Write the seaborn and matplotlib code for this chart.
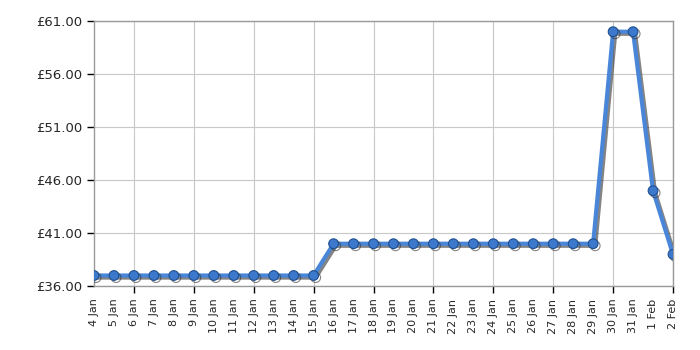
import matplotlib
matplotlib.use("Agg")
import matplotlib.pyplot as plt
import matplotlib.patheffects as pe
from matplotlib.ticker import FixedLocator
import seaborn as sns
import pandas as pd

dates = ["4 Jan", "5 Jan", "6 Jan", "7 Jan", "8 Jan", "9 Jan", "10 Jan", "11 Jan",
         "12 Jan", "13 Jan", "14 Jan", "15 Jan", "16 Jan", "17 Jan", "18 Jan",
         "19 Jan", "20 Jan", "21 Jan", "22 Jan", "23 Jan", "24 Jan", "25 Jan",
         "26 Jan", "27 Jan", "28 Jan", "29 Jan", "30 Jan", "31 Jan", "1 Feb", "2 Feb"]
prices = [36.99] * 12 + [39.99] * 14 + [59.99, 59.99, 44.99, 38.99]
y_ticks = [36, 41, 46, 51, 56, 61]

sns.set_style("ticks")
plt.rcParams["font.family"] = ["DejaVu Sans"]
plt.rcParams["xtick.major.pad"] = 9
plt.rcParams["xtick.major.size"] = 0
plt.rcParams["xtick.labelsize"] = 8

df = pd.DataFrame({"idx": range(len(dates)), "price": prices})

fig = plt.figure(figsize=(7, 3.5), dpi=100)
ax = fig.add_axes([94 / 700, 1 - 286 / 350, (673 - 94) / 700, (286 - 21) / 350])

sns.lineplot(data=df, x="idx", y="price", ax=ax, color="#4a86d8", linewidth=3,
             marker="o", markersize=7, markerfacecolor="#3c78cc",
             markeredgecolor="#1f4f8f", markeredgewidth=0.8, zorder=5,
             path_effects=[pe.SimpleLineShadow(offset=(1.5, -1.5), shadow_color="#333333", alpha=0.6),
                           pe.Normal()])

ax.set_xlim(0, len(dates) - 1)
ax.set_ylim(36, 61)
ax.xaxis.remove_overlapping_locs = False
ax.set_xticks(list(range(len(dates))), dates, rotation=90)
ax.xaxis.set_minor_locator(FixedLocator(list(range(2, len(dates), 3))))
ax.tick_params(axis="x", which="minor", length=5, width=1, color="black", direction="out", bottom=True)
ax.set_yticks(y_ticks, [f"£{v:.2f}" for v in y_ticks])
ax.tick_params(axis="y", length=5, width=1, color="black", direction="out", left=True, labelsize=9.5)
ax.grid(False)
ax.xaxis.grid(True, which="minor", color="#c8c8c8", linewidth=0.8)
ax.yaxis.grid(True, which="major", color="#c8c8c8", linewidth=0.8)
ax.set_axisbelow(True)
for s in ax.spines.values():
    s.set_visible(True)
    s.set_color("#9a9a9a")
    s.set_linewidth(1)
ax.set_xlabel("")
ax.set_ylabel("")

fig.savefig("out.png", dpi=100)
